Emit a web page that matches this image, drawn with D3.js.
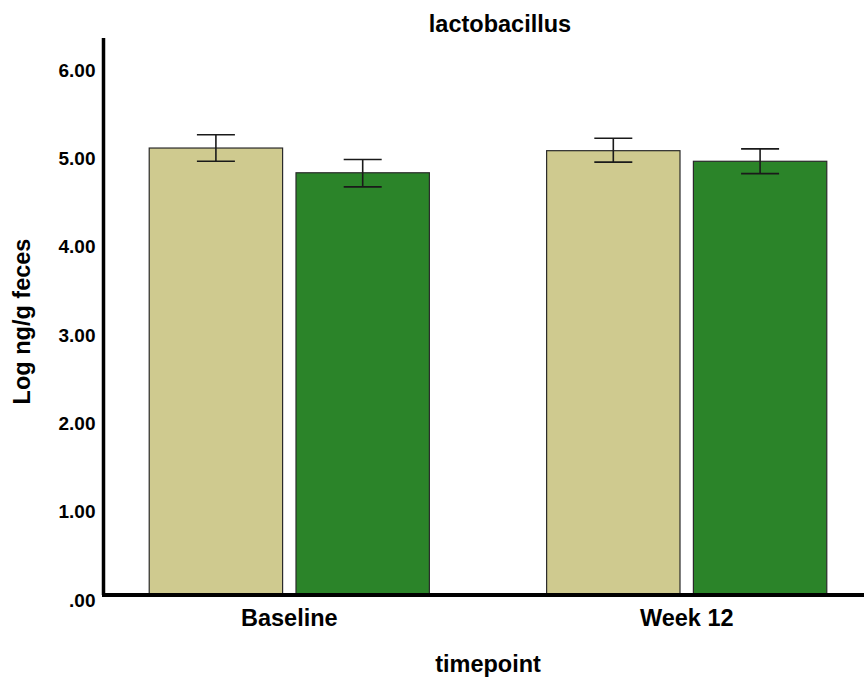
<!DOCTYPE html>
<html>
<head>
<meta charset="utf-8">
<script src="https://cdn.jsdelivr.net/npm/d3@7"></script>
<style>
  html, body { margin: 0; padding: 0; background: #fff; }
  svg { display: block; font-family: "Liberation Sans", Arial, sans-serif; font-weight: bold; }
</style>
</head>
<body>
<svg id="chart" width="864" height="684"></svg>
<script>
// Timepoints on the x axis
const categories = ["Baseline", "Week 12"];
// Two groups per timepoint
const seriesNames = ["Group A", "Group B"];
// Mean log ng/g feces per group
const meanA = [5.06, 5.03];
const meanB = [4.78, 4.91];
// Error bar ends (low / high)
const lowA = [4.91, 4.90];
const highA = [5.21, 5.17];
const lowB = [4.62, 4.77];
const highB = [4.93, 5.05];
// Y tick values and labels
const yTicks = [0, 1, 2, 3, 4, 5, 6];
const yTickLabels = [".00", "1.00", "2.00", "3.00", "4.00", "5.00", "6.00"];

const colors = ["#cfca8f", "#2b8429"];

const rows = categories.map((c, i) => ({
  cat: c,
  bars: [
    { s: seriesNames[0], v: meanA[i], lo: lowA[i], hi: highA[i] },
    { s: seriesNames[1], v: meanB[i], lo: lowB[i], hi: highB[i] }
  ]
}));

const svg = d3.select("#chart");

const y = d3.scaleLinear().domain([0, 6]).range([595, 65]);

const x0 = d3.scaleBand()
  .domain(categories)
  .range([90.6, 885.4])
  .paddingInner(0.295)
  .paddingOuter(0.1475);

const x1 = d3.scaleBand()
  .domain(seriesNames)
  .range([0, x0.bandwidth()])
  .paddingInner(0.0913)
  .paddingOuter(0);

const color = d3.scaleOrdinal().domain(seriesNames).range(colors);

// Bars
const groups = svg.append("g").selectAll("g")
  .data(rows).join("g")
  .attr("transform", d => `translate(${x0(d.cat)},0)`);

groups.selectAll("rect")
  .data(d => d.bars).join("rect")
  .attr("x", d => x1(d.s))
  .attr("y", d => y(d.v))
  .attr("width", x1.bandwidth())
  .attr("height", d => y(0) - y(d.v))
  .attr("fill", d => color(d.s))
  .attr("stroke", "#2a2a2a")
  .attr("stroke-width", 1.2);

// Error bars
const capHalf = 19;
const eb = groups.selectAll("g.err")
  .data(d => d.bars).join("g")
  .attr("class", "err")
  .attr("stroke", "#1a1a1a")
  .attr("stroke-width", 1.6);
eb.append("line")
  .attr("x1", d => x1(d.s) + x1.bandwidth() / 2)
  .attr("x2", d => x1(d.s) + x1.bandwidth() / 2)
  .attr("y1", d => y(d.lo)).attr("y2", d => y(d.hi));
eb.append("line")
  .attr("x1", d => x1(d.s) + x1.bandwidth() / 2 - capHalf)
  .attr("x2", d => x1(d.s) + x1.bandwidth() / 2 + capHalf)
  .attr("y1", d => y(d.hi)).attr("y2", d => y(d.hi));
eb.append("line")
  .attr("x1", d => x1(d.s) + x1.bandwidth() / 2 - capHalf)
  .attr("x2", d => x1(d.s) + x1.bandwidth() / 2 + capHalf)
  .attr("y1", d => y(d.lo)).attr("y2", d => y(d.lo));

// Y axis
const yAxis = d3.axisLeft(y)
  .tickValues(yTicks)
  .tickFormat((d, i) => yTickLabels[i])
  .tickSize(0)
  .tickPadding(8);
const gy = svg.append("g").attr("transform", "translate(103.5,0)").call(yAxis);
gy.select(".domain").remove();
gy.selectAll("text")
  .attr("dy", "0.32em")
  .attr("y", 5)
  .attr("font-size", 19)
  .attr("font-weight", "bold")
  .attr("font-family", "Liberation Sans, Arial, sans-serif")
  .attr("fill", "#000");
svg.append("line")
  .attr("x1", 103.5).attr("x2", 103.5)
  .attr("y1", 38).attr("y2", y(0))
  .attr("stroke", "#000").attr("stroke-width", 3.5);

// X axis
const xAxis = d3.axisBottom(x0).tickSize(0).tickPadding(14);
const gx = svg.append("g").attr("transform", `translate(0,${y(0)})`).call(xAxis);
gx.select(".domain").remove();
gx.selectAll("text")
  .attr("font-size", 23.5)
  .attr("font-weight", "bold")
  .attr("font-family", "Liberation Sans, Arial, sans-serif")
  .attr("fill", "#000");
svg.append("line")
  .attr("x1", 102).attr("x2", 864)
  .attr("y1", y(0)).attr("y2", y(0))
  .attr("stroke", "#000").attr("stroke-width", 4);

// Titles
svg.append("text")
  .attr("x", 500).attr("y", 31.5)
  .attr("text-anchor", "middle")
  .attr("font-size", 23.5)
  .text("lactobacillus");

svg.append("text")
  .attr("x", 488).attr("y", 671.5)
  .attr("text-anchor", "middle")
  .attr("font-size", 23.5)
  .text("timepoint");

svg.append("text")
  .attr("transform", "translate(29.5,321.5) rotate(-90)")
  .attr("text-anchor", "middle")
  .attr("font-size", 23.5)
  .text("Log ng/g feces");
</script>
</body>
</html>
